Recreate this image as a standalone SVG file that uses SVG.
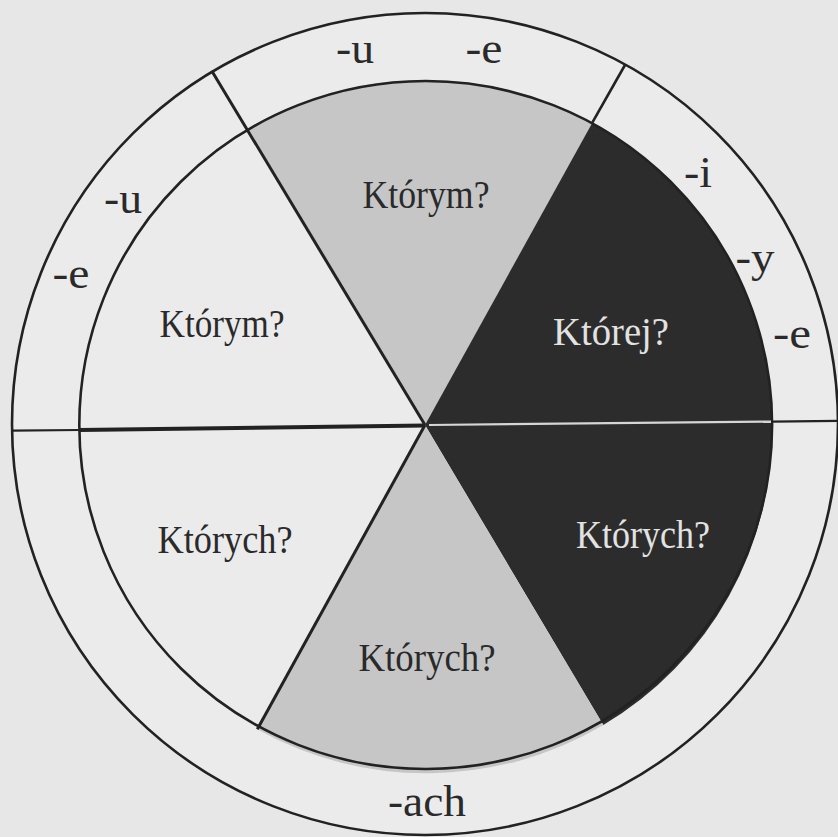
<svg xmlns="http://www.w3.org/2000/svg" width="838" height="837" viewBox="0 0 838 837">
<style>
.ln{stroke:#222;fill:none;stroke-linecap:butt}
.lbl{font-family:"Liberation Serif","Times New Roman",serif;font-size:39px;text-anchor:middle;fill:#2a2a2a}
.suf{font-family:"Liberation Serif","Times New Roman",serif;font-size:45px;text-anchor:middle;fill:#2a2a2a}
.inv{fill:#e2e2e2}
.gray{fill:#c6c6c6}
.dark{fill:#2c2c2c}
</style>
<rect width="838" height="837" fill="#e7e7e7"/>
<g id="ring">
<ellipse cx="425" cy="424" rx="413" ry="411" fill="#ebebeb"/>
<text class="suf" x="355" y="63" textLength="38" lengthAdjust="spacingAndGlyphs">-u</text>
<text class="suf" x="484" y="63" textLength="37" lengthAdjust="spacingAndGlyphs">-e</text>
<text class="suf" x="123" y="213" textLength="38" lengthAdjust="spacingAndGlyphs">-u</text>
<text class="suf" x="71" y="288" textLength="37" lengthAdjust="spacingAndGlyphs">-e</text>
<text class="suf" x="698" y="187" textLength="28" lengthAdjust="spacingAndGlyphs">-i</text>
<text class="suf" x="755" y="272" textLength="39" lengthAdjust="spacingAndGlyphs">-y</text>
<text class="suf" x="792" y="348" textLength="38" lengthAdjust="spacingAndGlyphs">-e</text>
<text class="suf" x="427" y="816" textLength="78" lengthAdjust="spacingAndGlyphs">-ach</text>
</g>
<g id="sector-top">
<path class="gray" d="M425 425 L248.3 128.3 A346 344 0 0 1 592.3 122.7 Z"/>
<text class="lbl" x="426" y="208" textLength="127" lengthAdjust="spacingAndGlyphs">Którym?</text>
</g>
<g id="sector-right-upper">
<path class="dark" d="M425 425 L592.3 122.7 A346 344 0 0 1 772 421.6 Z"/>
<text class="lbl inv" x="611" y="345" textLength="116" lengthAdjust="spacingAndGlyphs">Której?</text>
</g>
<g id="sector-right-lower">
<path class="dark" d="M425 425 L772 421.6 A346 344 0 0 1 603.3 725 Z"/>
<text class="lbl inv" x="643" y="548" textLength="134" lengthAdjust="spacingAndGlyphs">Których?</text>
</g>
<g id="sector-bottom">
<path class="gray" d="M425 425 L603.3 725 A346 344 0 0 1 257.3 729.3 Z"/>
<text class="lbl" x="427" y="671" textLength="137" lengthAdjust="spacingAndGlyphs">Których?</text>
</g>
<g id="sector-left-lower">
<text class="lbl" x="225" y="553" textLength="135" lengthAdjust="spacingAndGlyphs">Których?</text>
</g>
<g id="sector-left-upper">
<text class="lbl" x="222" y="337" textLength="125" lengthAdjust="spacingAndGlyphs">Którym?</text>
</g>
<g id="connectors">
<ellipse class="ln" cx="425" cy="424" rx="413" ry="411" stroke-width="2.6"/>
<ellipse class="ln" cx="425.7" cy="425" rx="346.4" ry="344" stroke-width="2.6"/>
<line class="ln" x1="425" y1="425" x2="211.7" y2="70.7" stroke-width="3"/>
<line class="ln" x1="592.3" y1="122.7" x2="625" y2="65" stroke-width="2.6"/>
<line class="ln" x1="425" y1="425" x2="257.3" y2="729.3" stroke-width="3"/>
<line class="ln" x1="11.7" y1="430.7" x2="79.3" y2="430" stroke-width="2.2"/>
<line class="ln" x1="79.3" y1="430" x2="425" y2="425.5" stroke-width="4"/>
<line x1="429" y1="425" x2="771" y2="421.6" stroke="#d6d6d6" stroke-width="2.2"/>
<line class="ln" x1="772" y1="421.6" x2="838" y2="420.9" stroke-width="2.4"/>
</g>
</svg>
